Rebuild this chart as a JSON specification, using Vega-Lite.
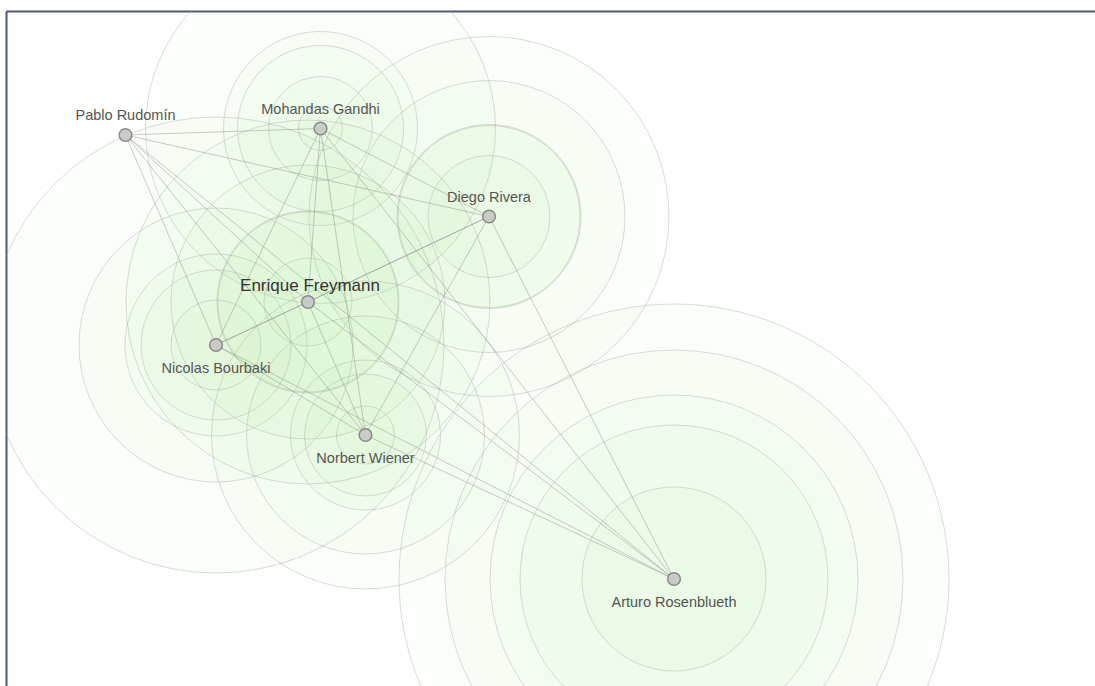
{
  "$schema": "https://vega.github.io/schema/vega-lite/v6.json",
  "width": 1089,
  "height": 675,
  "autosize": {"type": "none"},
  "padding": {"left": 6, "top": 11, "right": 0, "bottom": 0},
  "background": "white",
  "config": {"view": {"stroke": null}},
  "datasets": {
    "nodes": [
      {"name": "Pablo Rudomín", "x": 125.5, "y": 135},
      {"name": "Mohandas Gandhi", "x": 320.5, "y": 128.5},
      {"name": "Diego Rivera", "x": 489, "y": 216.5},
      {"name": "Enrique Freymann", "x": 308, "y": 302},
      {"name": "Nicolas Bourbaki", "x": 216, "y": 345},
      {"name": "Norbert Wiener", "x": 365.5, "y": 435},
      {"name": "Arturo Rosenblueth", "x": 674, "y": 579}
    ],
    "edges": [
      {"source": "Pablo Rudomín", "target": "Mohandas Gandhi"},
      {"source": "Pablo Rudomín", "target": "Diego Rivera"},
      {"source": "Pablo Rudomín", "target": "Enrique Freymann"},
      {"source": "Pablo Rudomín", "target": "Nicolas Bourbaki"},
      {"source": "Pablo Rudomín", "target": "Norbert Wiener"},
      {"source": "Pablo Rudomín", "target": "Arturo Rosenblueth"},
      {"source": "Mohandas Gandhi", "target": "Diego Rivera"},
      {"source": "Mohandas Gandhi", "target": "Enrique Freymann"},
      {"source": "Mohandas Gandhi", "target": "Nicolas Bourbaki"},
      {"source": "Mohandas Gandhi", "target": "Norbert Wiener"},
      {"source": "Mohandas Gandhi", "target": "Arturo Rosenblueth"},
      {"source": "Diego Rivera", "target": "Enrique Freymann"},
      {"source": "Diego Rivera", "target": "Nicolas Bourbaki"},
      {"source": "Diego Rivera", "target": "Norbert Wiener"},
      {"source": "Diego Rivera", "target": "Arturo Rosenblueth"},
      {"source": "Enrique Freymann", "target": "Nicolas Bourbaki"},
      {"source": "Enrique Freymann", "target": "Norbert Wiener"},
      {"source": "Enrique Freymann", "target": "Arturo Rosenblueth"},
      {"source": "Nicolas Bourbaki", "target": "Norbert Wiener"},
      {"source": "Nicolas Bourbaki", "target": "Arturo Rosenblueth"},
      {"source": "Norbert Wiener", "target": "Arturo Rosenblueth"}
    ],
    "rings": [
      {"node": "Mohandas Gandhi", "r": 22},
      {"node": "Mohandas Gandhi", "r": 52},
      {"node": "Mohandas Gandhi", "r": 83},
      {"node": "Mohandas Gandhi", "r": 97},
      {"node": "Mohandas Gandhi", "r": 175},
      {"node": "Diego Rivera", "r": 61},
      {"node": "Diego Rivera", "r": 91},
      {"node": "Diego Rivera", "r": 92},
      {"node": "Diego Rivera", "r": 136},
      {"node": "Diego Rivera", "r": 180},
      {"node": "Enrique Freymann", "r": 44},
      {"node": "Enrique Freymann", "r": 90},
      {"node": "Enrique Freymann", "r": 91},
      {"node": "Enrique Freymann", "r": 137},
      {"node": "Enrique Freymann", "r": 182},
      {"node": "Nicolas Bourbaki", "r": 45},
      {"node": "Nicolas Bourbaki", "r": 75},
      {"node": "Nicolas Bourbaki", "r": 91},
      {"node": "Nicolas Bourbaki", "r": 137},
      {"node": "Nicolas Bourbaki", "r": 228},
      {"node": "Norbert Wiener", "r": 29},
      {"node": "Norbert Wiener", "r": 61},
      {"node": "Norbert Wiener", "r": 75},
      {"node": "Norbert Wiener", "r": 119},
      {"node": "Norbert Wiener", "r": 154},
      {"node": "Arturo Rosenblueth", "r": 92},
      {"node": "Arturo Rosenblueth", "r": 154},
      {"node": "Arturo Rosenblueth", "r": 184},
      {"node": "Arturo Rosenblueth", "r": 229},
      {"node": "Arturo Rosenblueth", "r": 275}
    ]
  },
  "encoding": {
    "x": {
      "field": "x",
      "type": "quantitative",
      "scale": {"domain": [6, 1095], "range": [0, 1089], "nice": false, "zero": false},
      "axis": {"orient": "top", "domain": true, "domainColor": "#4a5a70", "domainWidth": 2, "ticks": false, "labels": false, "grid": false, "title": null}
    },
    "y": {
      "field": "y",
      "type": "quantitative",
      "scale": {"domain": [11, 686], "range": [0, 675], "nice": false, "zero": false},
      "axis": {"orient": "left", "domain": true, "domainColor": "#4a5a70", "domainWidth": 2, "ticks": false, "labels": false, "grid": false, "title": null}
    }
  },
  "layer": [
    {
      "data": {"name": "rings"},
      "transform": [
        {"lookup": "node", "from": {"data": {"values": [
          {"name": "Pablo Rudomín", "x": 125.5, "y": 135},
          {"name": "Mohandas Gandhi", "x": 320.5, "y": 128.5},
          {"name": "Diego Rivera", "x": 489, "y": 216.5},
          {"name": "Enrique Freymann", "x": 308, "y": 302},
          {"name": "Nicolas Bourbaki", "x": 216, "y": 345},
          {"name": "Norbert Wiener", "x": 365.5, "y": 435},
          {"name": "Arturo Rosenblueth", "x": 674, "y": 579}
        ]}, "key": "name", "fields": ["x", "y"]}}
      ],
      "mark": {"type": "point", "shape": "circle", "filled": true, "fill": "#a2f294", "fillOpacity": 0.045, "stroke": "#a0a0a0", "strokeOpacity": 0.38, "strokeWidth": 1, "clip": true},
      "encoding": {
        "size": {"field": "r", "type": "quantitative", "scale": {"type": "pow", "exponent": 2, "domain": [0, 300], "range": [0, 360000]}, "legend": null}
      }
    },
    {
      "data": {"name": "edges"},
      "transform": [
        {"lookup": "source", "from": {"data": {"values": [
          {"name": "Pablo Rudomín", "x": 125.5, "y": 135},
          {"name": "Mohandas Gandhi", "x": 320.5, "y": 128.5},
          {"name": "Diego Rivera", "x": 489, "y": 216.5},
          {"name": "Enrique Freymann", "x": 308, "y": 302},
          {"name": "Nicolas Bourbaki", "x": 216, "y": 345},
          {"name": "Norbert Wiener", "x": 365.5, "y": 435},
          {"name": "Arturo Rosenblueth", "x": 674, "y": 579}
        ]}, "key": "name", "fields": ["x", "y"]}, "as": ["x", "y"]},
        {"lookup": "target", "from": {"data": {"values": [
          {"name": "Pablo Rudomín", "x": 125.5, "y": 135},
          {"name": "Mohandas Gandhi", "x": 320.5, "y": 128.5},
          {"name": "Diego Rivera", "x": 489, "y": 216.5},
          {"name": "Enrique Freymann", "x": 308, "y": 302},
          {"name": "Nicolas Bourbaki", "x": 216, "y": 345},
          {"name": "Norbert Wiener", "x": 365.5, "y": 435},
          {"name": "Arturo Rosenblueth", "x": 674, "y": 579}
        ]}, "key": "name", "fields": ["x", "y"]}, "as": ["x2", "y2"]}
      ],
      "mark": {"type": "rule", "stroke": "#8c8c8c", "strokeOpacity": 0.45, "strokeWidth": 1},
      "encoding": {
        "x2": {"field": "x2"},
        "y2": {"field": "y2"}
      }
    },
    {
      "data": {"name": "nodes"},
      "mark": {"type": "point", "shape": "circle", "filled": true, "fill": "#c8cbc6", "fillOpacity": 1, "stroke": "#8a8a8a", "strokeWidth": 1.5, "size": 160, "opacity": 1}
    },
    {
      "data": {"name": "nodes"},
      "transform": [{"filter": {"field": "name", "oneOf": ["Pablo Rudomín", "Mohandas Gandhi", "Diego Rivera"]}}],
      "mark": {"type": "text", "font": "Liberation Sans", "fontSize": 14.5, "fill": "#555555", "align": "center", "baseline": "alphabetic", "dy": -15},
      "encoding": {"text": {"field": "name"}}
    },
    {
      "data": {"name": "nodes"},
      "transform": [{"filter": {"field": "name", "equal": "Enrique Freymann"}}],
      "mark": {"type": "text", "font": "Liberation Sans", "fontSize": 17, "fill": "#333333", "align": "center", "baseline": "alphabetic", "dy": -11, "dx": 2},
      "encoding": {"text": {"field": "name"}}
    },
    {
      "data": {"name": "nodes"},
      "transform": [{"filter": {"field": "name", "oneOf": ["Nicolas Bourbaki", "Norbert Wiener", "Arturo Rosenblueth"]}}],
      "mark": {"type": "text", "font": "Liberation Sans", "fontSize": 14.5, "fill": "#555555", "align": "center", "baseline": "alphabetic", "dy": 28},
      "encoding": {"text": {"field": "name"}}
    }
  ]
}
